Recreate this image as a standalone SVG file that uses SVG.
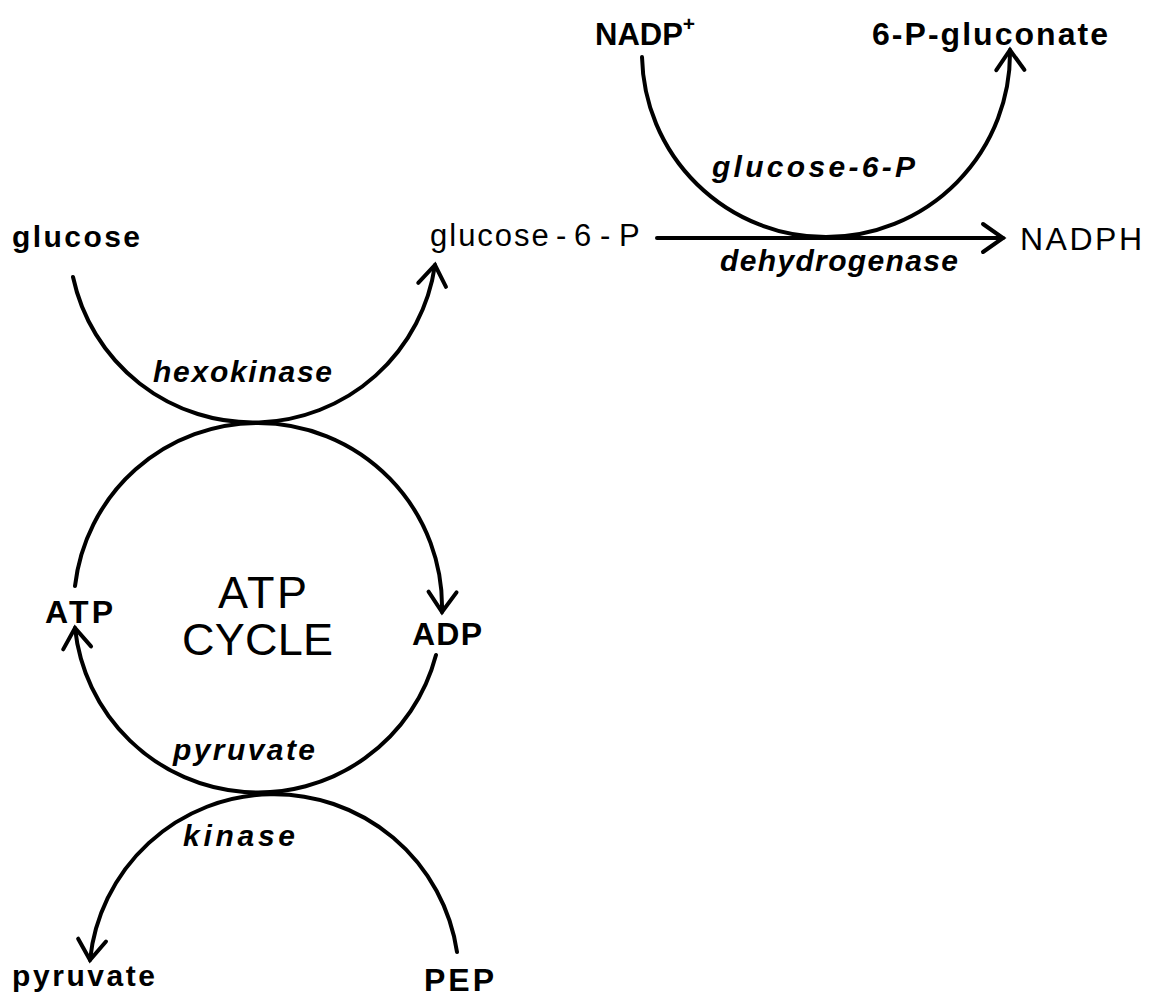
<svg xmlns="http://www.w3.org/2000/svg" width="1151" height="1002" viewBox="0 0 1151 1002">
<style>
.t{font-family:"Liberation Sans",Arial,sans-serif;fill:#000}
.b{font-weight:bold}
.r{font-weight:normal}
.i{font-weight:bold;font-style:italic}
.c{fill:none;stroke:#000;stroke-width:4;stroke-linecap:round}
</style>
<defs>
<marker id="arr" markerUnits="userSpaceOnUse" markerWidth="40" markerHeight="40" refX="0" refY="0" orient="auto" overflow="visible" viewBox="-30 -20 40 40">
<path d="M-20,-14 L0,0 L-20,14" fill="none" stroke="#000" stroke-width="4" stroke-linecap="round" stroke-linejoin="miter"/>
</marker>
</defs>
<rect width="1151" height="1002" fill="#fff"/>
<g id="connectors">
<path id="hexokinase-arc" class="c" d="M73,277 A184,184 0 0 0 435,265" marker-end="url(#arr)"/>
<path id="atp-adp-arc" class="c" d="M75,586 A184,184 0 0 1 258,423 A184,184 0 0 1 442,612" marker-end="url(#arr)"/>
<path id="adp-atp-arc" class="c" d="M436,655 A184,184 0 0 1 75,628" marker-end="url(#arr)"/>
<path id="pk-arc" class="c" d="M457,952 A185,185 0 0 0 90,960" marker-end="url(#arr)"/>
<path id="g6pd-arc" class="c" d="M642,57 A184,184 0 0 0 826,237 A184,184 0 0 0 1010,50" marker-end="url(#arr)"/>
<path id="g6p-nadph" class="c" d="M657,238 L1003,238" marker-end="url(#arr)"/>
</g>
<g id="node-glucose"><text class="t b" x="12" y="247" font-size="30" textLength="128" lengthAdjust="spacing">glucose</text></g>
<g id="node-glucose-6-P"><text class="t r" x="430" y="246" font-size="31"><tspan letter-spacing="2">glucose</tspan><tspan x="556">-</tspan><tspan x="574">6</tspan><tspan x="600">-</tspan><tspan x="619">P</tspan></text></g>
<g id="node-NADPH"><text class="t r" x="1020" y="250" font-size="32" textLength="122" lengthAdjust="spacing">NADPH</text></g>
<g id="node-NADP"><text class="t b" x="595" y="45" font-size="31">NADP<tspan dy="-14" font-size="21">+</tspan></text></g>
<g id="node-6-P-gluconate"><text class="t b" x="872" y="45" font-size="32" textLength="236" lengthAdjust="spacing">6-P-gluconate</text></g>
<g id="label-g6pd"><text class="t i" x="712" y="177" font-size="30" textLength="203" lengthAdjust="spacing">glucose-6-P</text>
<text class="t i" x="720" y="271" font-size="30" textLength="238" lengthAdjust="spacing">dehydrogenase</text></g>
<g id="label-hexokinase"><text class="t i" x="153" y="382" font-size="30" textLength="179" lengthAdjust="spacing">hexokinase</text></g>
<g id="node-ATP"><text class="t b" x="45" y="623" font-size="32" textLength="68" lengthAdjust="spacing">ATP</text></g>
<g id="node-ADP"><text class="t b" x="412" y="645" font-size="32" textLength="70" lengthAdjust="spacing">ADP</text></g>
<g id="label-atp-cycle"><text class="t r" x="218" y="608" font-size="45" textLength="89" lengthAdjust="spacing">ATP</text>
<text class="t r" x="182" y="655" font-size="45" textLength="151" lengthAdjust="spacing">CYCLE</text></g>
<g id="label-pyruvate-kinase"><text class="t i" x="173" y="760" font-size="30" textLength="142" lengthAdjust="spacing">pyruvate</text>
<text class="t i" x="183" y="846" font-size="30" textLength="112" lengthAdjust="spacing">kinase</text></g>
<g id="node-pyruvate"><text class="t b" x="12" y="986" font-size="30" textLength="143" lengthAdjust="spacing">pyruvate</text></g>
<g id="node-PEP"><text class="t b" x="424" y="991" font-size="32" textLength="70" lengthAdjust="spacing">PEP</text></g>
</svg>
